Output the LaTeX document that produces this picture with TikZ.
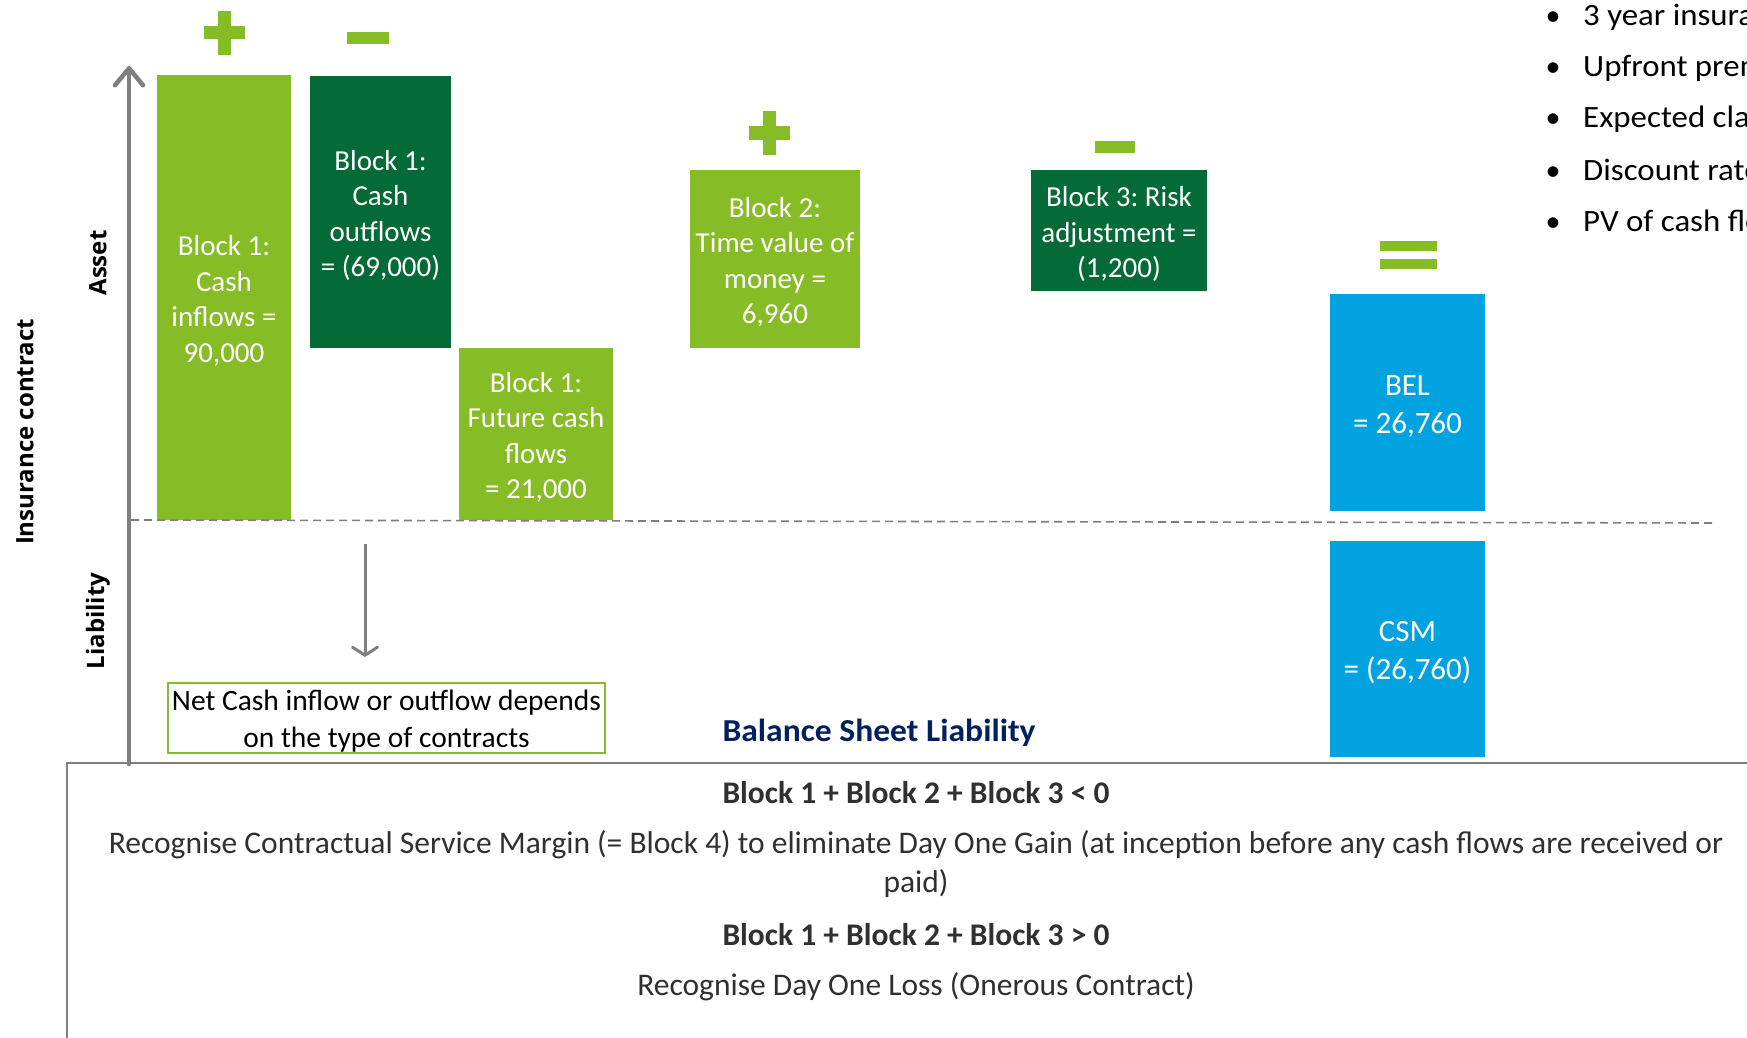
\documentclass[tikz,border=0pt]{standalone}
\usepackage{fontspec}
\setmainfont{Carlito}
\newfontfamily\labfont{Open Sans}
\newfontfamily\widefont{Carlito}[FakeStretch=1.06]
\newfontfamily\bslfont{Carlito}[FakeStretch=1.05]
\usetikzlibrary{arrows.meta}
\definecolor{lgreen}{HTML}{86BC25}
\definecolor{dgreen}{HTML}{046A38}
\definecolor{bblue}{HTML}{00A3E0}
\definecolor{navy}{HTML}{002060}
\definecolor{axgray}{HTML}{7F7F7F}
\definecolor{txtgray}{HTML}{303030}
\frenchspacing
\begin{document}
\begin{tikzpicture}[x=1pt,y=-1pt,
  blockbox/.style={inner sep=0pt, draw=none},
  block/.style={inner sep=0pt, align=center, text=white, yshift=-3.5pt, font=\frenchspacing\fontsize{29}{35.5}\selectfont},
  bigblock/.style={inner sep=0pt, align=center, text=white, yshift=-4pt, font=\fontsize{31}{38}\selectfont},
  btext/.style={inner sep=0pt, align=center, text=txtgray, font=\fontsize{31.5}{37}\selectfont},
  bullettext/.style={inner sep=0pt, anchor=base west, text=black, font=\widefont\fontsize{31}{36}\selectfont},
  bulletdot/.style={inner sep=0pt, anchor=base, text=black, font=\fontsize{30}{36}\selectfont},
  axlabel/.style={inner sep=0pt, rotate=90, text=black, font=\labfont\bfseries\fontsize{24}{28}\selectfont},
  sign/.style={fill=lgreen, draw=none}
]
\useasboundingbox (0,0) rectangle (1747,1038);
\fill[white] (0,0) rectangle (1747,1038);

% signs
\fill[sign] (217.5,11) rectangle (230.5,55);
\fill[sign] (204,26.5) rectangle (245,39.5);
\fill[sign] (347,32) rectangle (389,44);
\fill[sign] (763,111) rectangle (776,155);
\fill[sign] (749,126.5) rectangle (790,139.5);
\fill[sign] (1095,141) rectangle (1135,153);
\fill[sign] (1380,241) rectangle (1437,251);
\fill[sign] (1380,259) rectangle (1437,269);

% blocks
\node[blockbox, fill=lgreen, minimum width=134pt, minimum height=445pt] (b1in) at (224,297.5) {};
\node[block] (b1inT) at (b1in.center) {Block 1:\\Cash\\inflows =\\90,000};
\node[blockbox, fill=dgreen, minimum width=141pt, minimum height=272pt] (b1out) at (380.5,212) {};
\node[block] (b1outT) at (b1out.center) {Block 1:\\Cash\\outflows\\= (69,000)};
\node[blockbox, fill=lgreen, minimum width=154pt, minimum height=172pt] (b1fut) at (536,434) {};
\node[block] (b1futT) at (b1fut.center) {Block 1:\\Future cash\\flows\\= 21,000};
\node[blockbox, fill=lgreen, minimum width=170pt, minimum height=178pt] (b2) at (775,259) {};
\node[block] (b2T) at (b2.center) {Block 2:\\Time value of\\money =\\6,960};
\node[blockbox, fill=dgreen, minimum width=176pt, minimum height=121pt] (b3) at (1119,230.5) {};
\node[block] (b3T) at (b3.center) {Block 3: Risk\\adjustment =\\(1,200)};
\node[blockbox, fill=bblue, minimum width=155pt, minimum height=217pt] (bel) at (1407.5,402.5) {};
\node[bigblock] (belT) at (bel.center) {BEL\\= 26,760};
\node[blockbox, fill=bblue, minimum width=155pt, minimum height=216pt] (csm) at (1407.5,649) {};
\node[bigblock] (csmT) at (csm.center) {CSM\\= (26,760)};

% dashed separator
\coordinate (dl) at (131,520);
\coordinate (dr) at (1714,523);
\draw[axgray, line width=1.6pt, dash pattern=on 8pt off 5pt] (dl) -- (dr);

% bottom box frame
\coordinate (boxbl) at (67,1045);
\coordinate (boxtl) at (67,763);
\coordinate (boxtr) at (1760,763);
\draw[axgray, line width=2pt] (boxbl) -- (boxtl) -- (boxtr);

% vertical axis
\coordinate (axbot) at (129,764);
\coordinate (axtop) at (129,66);
\draw[axgray, line width=4.5pt, line cap=round, line join=round, -{Straight Barb[length=17pt,width=28pt,line cap=round,line join=round]}] (axbot) -- (axtop);

% axis labels
\node[axlabel] (asset) at (98,263) {Asset};
\node[axlabel] (liab) at (98,621) {Liability};
\node[axlabel] (ins) at (25,432) {Insurance contract};

% net cash box and arrow
\node[draw=lgreen, line width=2pt, minimum width=437pt, minimum height=70pt, inner sep=0pt, align=center, text=black, font=\fontsize{29.5}{37}\selectfont] (net) at (386.5,718) {};
\node[inner sep=0pt, align=center, text=black, yshift=-3pt, font=\fontsize{29.5}{37}\selectfont] (netT) at (net.center) {Net Cash inflow or outflow depends\\on the type of contracts};
\coordinate (darrtop) at (365,544);
\coordinate (darrbot) at (365,657);
\draw[axgray, line width=3pt, -{Straight Barb[length=8pt,width=25pt,line cap=round]}] (darrtop) -- (darrbot);

% balance sheet liability
\node[inner sep=0pt, text=navy, font=\bslfont\bfseries\fontsize{32}{36}\selectfont] (bsl) at (879,733) {Balance Sheet Liability};

% bottom texts
\node[btext] (c1) at (916,793) {\bfseries Block 1 + Block 2 + Block 3 < 0};
\node[btext] (r1) at (916,845) {Recognise Contractual Service Margin (= Block 4) to eliminate Day One Gain (at inception before any cash flows are received or};
\node[btext] (r1b) at (916,884) {paid)};
\node[btext] (c2) at (916,935) {\bfseries Block 1 + Block 2 + Block 3 > 0};
\node[btext] (r2) at (916,987) {Recognise Day One Loss (Onerous Contract)};

% bullets (cut by the right edge)
\begin{scope}
\clip (1500,0) rectangle (1747,260);
\node[bulletdot] (d1) at (1553,26) {•};
\node[bullettext] (l1) at (1583,26) {3 year insurance};
\node[bulletdot] (d2) at (1553,77) {•};
\node[bullettext] (l2) at (1583,77) {Upfront premium};
\node[bulletdot] (d3) at (1553,128) {•};
\node[bullettext] (l3) at (1583,128) {Expected claims};
\node[bulletdot] (d4) at (1553,180) {•};
\node[bullettext] (l4) at (1583,180) {Discount rate};
\node[bulletdot] (d5) at (1553,231) {•};
\node[bullettext] (l5) at (1583,231) {PV of cash flows};
\end{scope}
\end{tikzpicture}
\end{document}
